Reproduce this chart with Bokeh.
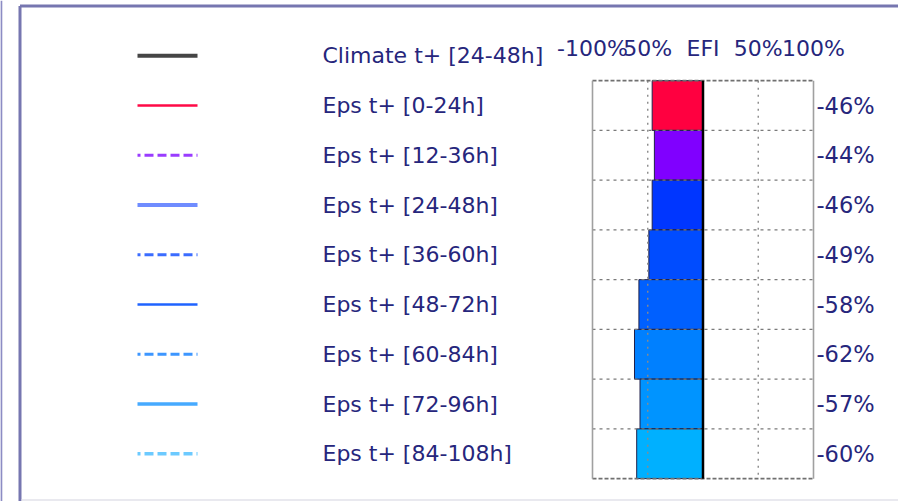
from bokeh.plotting import figure
from bokeh.models import Range1d
from bokeh.core.properties import value
from bokeh.embed import file_html
from bokeh.resources import INLINE

# ---- data -------------------------------------------------------------
legend_labels = [
    "Climate t+ [24-48h]",
    "Eps t+ [0-24h]",
    "Eps t+ [12-36h]",
    "Eps t+ [24-48h]",
    "Eps t+ [36-60h]",
    "Eps t+ [48-72h]",
    "Eps t+ [60-84h]",
    "Eps t+ [72-96h]",
    "Eps t+ [84-108h]",
]
legend_colors = ["#454545", "#ff0a46", "#9a3cff", "#6f8cff", "#3b6cff",
                 "#1f63ff", "#3d96ff", "#46aaff", "#6ccaff"]
legend_dashes = ["solid", "solid", "9 4", "solid", "9 4",
                 "solid", "9 4", "solid", "9 4"]
legend_widths = [4, 2.5, 3, 4, 3, 2.5, 3, 3.5, 3.5]

efi_values = [-46, -44, -46, -49, -58, -62, -57, -60]
efi_colors = ["#ff0040", "#8000ff", "#0036ff", "#004cff",
              "#0060ff", "#0080ff", "#0094ff", "#00b0ff"]

tick_values = [-100, -50, 0, 50, 100]
tick_labels = ["-100%", "50%", "EFI", "50%", "100%"]

# ---- layout (pixels) --------------------------------------------------
W, H = 898, 501
ZERO_PX = 702.5      # pixel column of 0 %
PX_PER_PCT = 1.105   # horizontal pixels per percent
ROW0_PX = 105.0      # pixel row of the first EFI bar centre
ROW_PX = 49.75       # pixels per row


def dx(px):
    return (px - ZERO_PX) / PX_PER_PCT


def dy(py):
    return (py - ROW0_PX) / ROW_PX


TEXT = "#26267c"
FONT = value("DejaVu Sans")

p = figure(width=W, height=H, output_backend="svg", toolbar_location=None,
           x_range=Range1d(dx(0), dx(W)), y_range=Range1d(dy(H), dy(0)),
           min_border=0, min_border_left=0, min_border_right=0,
           min_border_top=0, min_border_bottom=0)
p.axis.visible = False
p.grid.visible = False
p.outline_line_color = None
p.background_fill_color = "white"
p.border_fill_color = "white"

# outer frame
p.segment(x0=[dx(0.8)], y0=[dy(0)], x1=[dx(0.8)], y1=[dy(H)],
          line_color="#8c8cc4", line_width=2)
p.segment(x0=[dx(19.5), dx(19.5)], y0=[dy(5.5), dy(5.5)],
          x1=[dx(19.5), dx(W)], y1=[dy(H), dy(5.5)],
          line_color="#7676b0", line_width=3)
p.segment(x0=[dx(21)], y0=[dy(499.5)], x1=[dx(W)], y1=[dy(499.5)],
          line_color="#e2e2ea", line_width=1.5)

# legend rows: sample line + label
n = len(legend_labels)
rows = [i - 1 for i in range(n)]
for r, c, d, w in zip(rows, legend_colors, legend_dashes, legend_widths):
    p.line(x=[dx(137), dx(197)], y=[r, r], line_color=c, line_width=w,
           line_dash=d, line_dash_offset=6)
p.text(x=[dx(322)] * n, y=rows, text=legend_labels, text_font=FONT,
       text_font_size="22px", text_color=TEXT, text_align="left",
       text_baseline="middle")

# EFI panel
nb = len(efi_values)
bar_rows = list(range(nb))
top, bot = -0.5, nb - 0.5

p.hbar(y=bar_rows, left=efi_values, right=0, height=1.0,
       fill_color=efi_colors, line_color="#20204a", line_width=1)

# dotted grid
p.segment(x0=[-100] * (nb - 1), x1=[100] * (nb - 1),
          y0=[r + 0.5 for r in bar_rows[:-1]], y1=[r + 0.5 for r in bar_rows[:-1]],
          line_color="#7a7a7a", line_width=1.4, line_dash="3 4")
p.segment(x0=[-50, 50], x1=[-50, 50], y0=[top, top], y1=[bot, bot],
          line_color="#8a8a8a", line_width=1.4, line_dash="2 5")
# box edges
p.segment(x0=[-100, -100], x1=[100, 100], y0=[top, bot], y1=[top, bot],
          line_color="#707070", line_width=1.6, line_dash="4 2")
p.segment(x0=[-100, 100], x1=[-100, 100], y0=[top, top], y1=[bot, bot],
          line_color="#a0a0a0", line_width=1.6)
# zero line
p.segment(x0=[0], x1=[0], y0=[top], y1=[bot], line_color="#000000",
          line_width=2.5)

# header tick labels
p.text(x=tick_values, y=[dy(48)] * len(tick_values), text=tick_labels,
       text_font=FONT, text_font_size="22px", text_color=TEXT,
       text_align="center", text_baseline="middle")

# value labels
p.text(x=[dx(816)] * nb, y=bar_rows, text=[f"{v}%" for v in efi_values],
       text_font=FONT, text_font_size="22.5px", text_color=TEXT,
       text_align="left", text_baseline="middle")

open("out.html", "w").write(file_html(p, INLINE))
